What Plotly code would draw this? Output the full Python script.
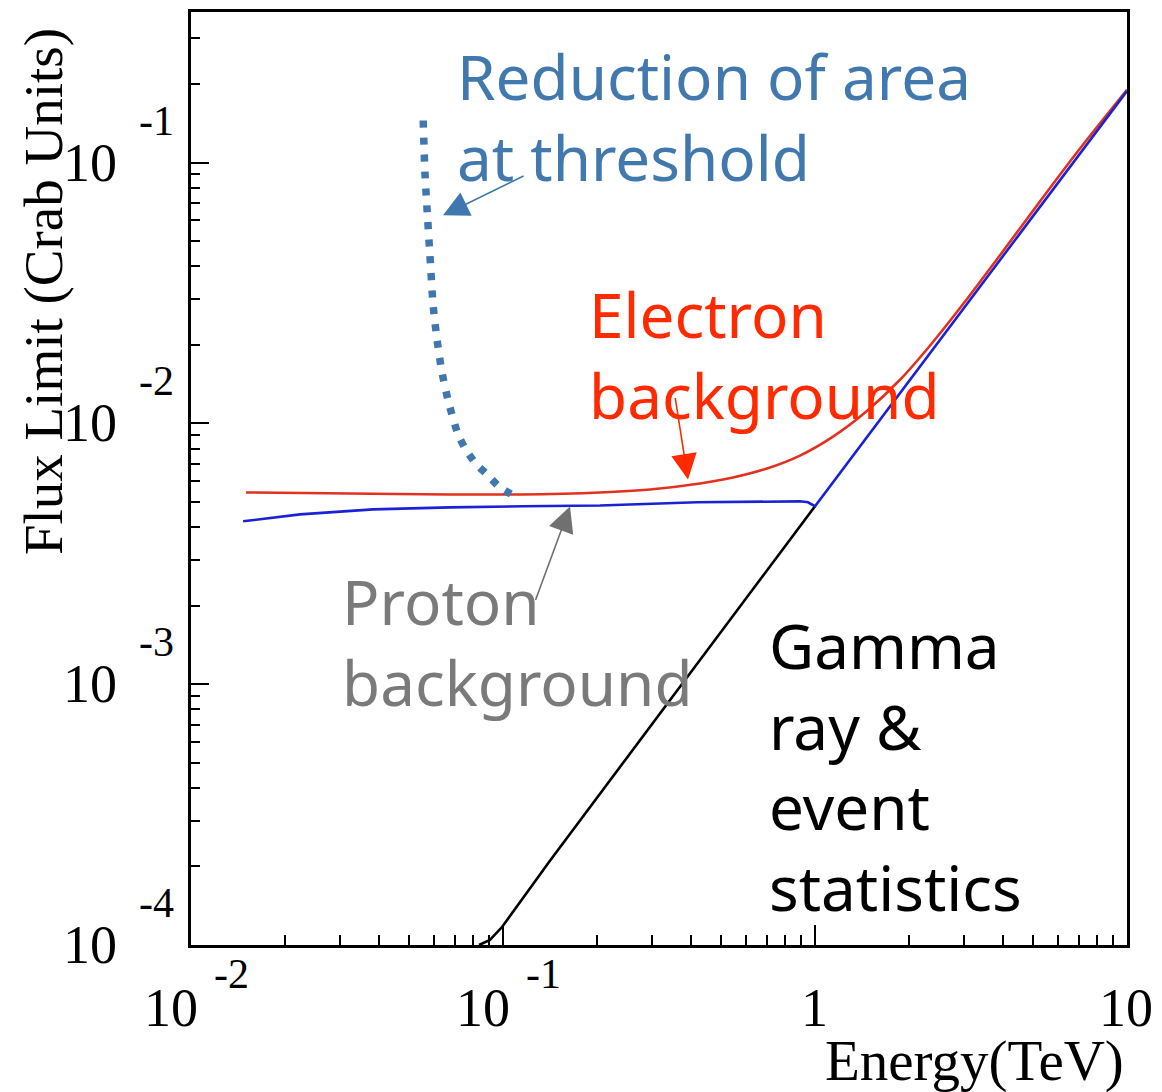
import math
import plotly.graph_objects as go

# ---------------- data ----------------
# Electron background (red)
electron_E = [0.01501, 0.03233, 0.06763, 0.1134, 0.2046, 0.2960, 0.4280, 0.5462, 0.7017, 0.8952,
              1.142, 1.457, 1.873, 2.389, 3.070, 3.917, 5.263, 7.069, 10.0]
electron_F = [0.005433, 0.005385, 0.005338, 0.005338, 0.005433, 0.005578, 0.005880, 0.006200, 0.006712, 0.007523,
              0.008894, 0.01108, 0.01469, 0.02051, 0.02995, 0.04411, 0.07096, 0.1131, 0.190]

# Proton background + total (blue)
proton_E = [0.01469, 0.02236, 0.03831, 0.06763, 0.1159, 0.2046, 0.4186, 0.6665, 0.8952, 0.9497, 1.0, 10.0]
proton_F = [0.00421, 0.004477, 0.004677, 0.004764, 0.00481, 0.00484, 0.00498, 0.005023, 0.005023, 0.00498, 0.00481, 0.188]

# Gamma ray & event statistics (black)
gamma_E = [0.0838, 0.0908, 0.0993, 0.1416, 1.0]
gamma_F = [1.0e-4, 1.045e-4, 1.172e-4, 2.11e-4, 0.00481]

# Reduction of area at threshold (dotted)
thresh_E = [0.0555, 0.0562, 0.0570, 0.0583, 0.0597, 0.0614, 0.0637, 0.0671, 0.0718, 0.0760, 0.0818, 0.0889, 0.0970, 0.1091]
thresh_F = [0.1449, 0.0916, 0.0685, 0.0442, 0.0284, 0.0211, 0.01574, 0.01189, 0.00906, 0.00793, 0.00701, 0.00637, 0.00573, 0.00525]

# tick labels: mantissa + exponent (ROOT style)
x_tickvals = [0.01, 0.1, 1, 10]
x_tick_base = ["10", "10", "1", "10"]
x_tick_exp = ["-2", "-1", "", ""]
y_tickvals = [1e-4, 1e-3, 1e-2, 1e-1]
y_tick_base = ["10", "10", "10", "10"]
y_tick_exp = ["-4", "-3", "-2", "-1"]

# ---------------- layout geometry (page pixels; page body has an 8px margin) ----------------
OFF = 8
W, H = 1162 - OFF, 1092 - OFF
PL, PR, PT, PB = 191, 1127, 9, 945          # plot area on the page
XR = [-2, 1]
YR = [-4, -0.423]
PW, PH = PR - PL, PB - PT


def px_to_logx(px):
    return XR[0] + (px - PL) / PW * (XR[1] - XR[0])


def py_to_logy(py):
    return YR[1] - (py - PT) / PH * (YR[1] - YR[0])


def px_to_paper_x(px):
    return (px - PL) / PW


def py_to_paper_y(py):
    return 1 - (py - PT) / PH


hand_font = "Comic Sans MS, Noto Sans"
serif_font = "Liberation Serif"

fig = go.Figure()
fig.add_trace(go.Scatter(x=electron_E, y=electron_F, mode="lines",
                         line=dict(color="#e3301f", width=2.6, shape="spline", smoothing=0.9)))
fig.add_trace(go.Scatter(x=gamma_E, y=gamma_F, mode="lines",
                         line=dict(color="black", width=2.6)))
fig.add_trace(go.Scatter(x=proton_E, y=proton_F, mode="lines",
                         line=dict(color="#1a22d6", width=2.6)))
fig.add_trace(go.Scatter(x=thresh_E, y=thresh_F, mode="lines",
                         line=dict(color="#3f77ae", width=7.5, dash="7px,10px", shape="spline", smoothing=0.6)))

minor_x = [m * 10 ** d for d in (-2, -1, 0) for m in range(2, 10)]
minor_y = [m * 10 ** d for d in (-4, -3, -2, -1) for m in range(2, 10)]

fig.update_xaxes(type="log", range=XR, showline=True, linecolor="black", linewidth=3, mirror=True,
                 ticks="inside", ticklen=20, tickwidth=1.5, tickcolor="black",
                 tickmode="array", tickvals=x_tickvals, showticklabels=False,
                 minor=dict(ticks="inside", ticklen=10, tickwidth=1.5, tickcolor="black",
                            tickmode="array", tickvals=minor_x, showgrid=False),
                 showgrid=False, zeroline=False)
fig.update_yaxes(type="log", range=YR, showline=True, linecolor="black", linewidth=3, mirror=True,
                 ticks="inside", ticklen=18, tickwidth=1.5, tickcolor="black",
                 tickmode="array", tickvals=y_tickvals, showticklabels=False,
                 minor=dict(ticks="inside", ticklen=9, tickwidth=1.5, tickcolor="black",
                            tickmode="array", tickvals=minor_y, showgrid=False),
                 showgrid=False, zeroline=False)

annotations = []
base_font = dict(family=serif_font, size=54, color="black")
exp_font = dict(family=serif_font, size=42, color="black")

# x tick labels
for v, b, e in zip(x_tickvals, x_tick_base, x_tick_exp):
    if e:
        annotations.append(dict(text=b, xref="x", yref="paper", x=math.log10(v), y=py_to_paper_y(1008),
                                xanchor="right", yanchor="middle", xshift=9, showarrow=False, font=base_font))
        annotations.append(dict(text=e, xref="x", yref="paper", x=math.log10(v), y=py_to_paper_y(974),
                                xanchor="left", yanchor="middle", xshift=21, showarrow=False, font=exp_font))
    else:
        annotations.append(dict(text=b, xref="x", yref="paper", x=math.log10(v), y=py_to_paper_y(1008),
                                xanchor="center", yanchor="middle", xshift=-1, showarrow=False, font=base_font))

# y tick labels
for v, b, e in zip(y_tickvals, y_tick_base, y_tick_exp):
    annotations.append(dict(text=b, xref="paper", yref="y", x=px_to_paper_x(119), y=math.log10(v),
                            xanchor="right", yanchor="middle", showarrow=False, font=base_font))
    annotations.append(dict(text=e, xref="paper", yref="y", x=px_to_paper_x(137), y=math.log10(v),
                            xanchor="left", yanchor="middle", yshift=42, showarrow=False, font=exp_font))

# axis titles
annotations.append(dict(text="Flux Limit (Crab Units)", xref="paper", yref="paper",
                        x=px_to_paper_x(43), y=py_to_paper_y(290), xanchor="center", yanchor="middle",
                        textangle=-90, showarrow=False,
                        font=dict(family=serif_font, size=55, color="black")))
annotations.append(dict(text="Energy(TeV)", xref="paper", yref="paper",
                        x=px_to_paper_x(1126), y=py_to_paper_y(1061), xanchor="right", yanchor="middle",
                        showarrow=False, font=dict(family=serif_font, size=57, color="black")))

# text labels
labels = [
    ("Reduction of area<br>at threshold", 455, 114, "#4178ad"),
    ("Electron<br>background", 587, 353, "#ff2a00"),
    ("Proton<br>background", 340, 641, "#7a7a7a"),
    ("Gamma<br>ray &amp;<br>event<br>statistics", 767, 765, "black"),
]
for txt, lx, cy, col in labels:
    annotations.append(dict(text=txt, xref="paper", yref="paper", x=px_to_paper_x(lx), y=py_to_paper_y(cy),
                            xanchor="left", yanchor="middle", align="left", showarrow=False,
                            font=dict(family=hand_font, size=62, color=col)))

# arrows (head position, tail offset in px)
arrows = [
    (443, 213, 82, -40, "#3f77ae"),
    (688, 478, -13, -83, "#ff2a00"),
    (570, 505, -35, 95, "#707070"),
]
for hx, hy, dx, dy, col in arrows:
    annotations.append(dict(text="", x=px_to_logx(hx), y=py_to_logy(hy), xref="x", yref="y",
                            ax=dx, ay=dy, showarrow=True, arrowhead=2, arrowsize=3.2,
                            arrowwidth=1.6, arrowcolor=col, standoff=0, startstandoff=0))

fig.update_layout(width=W, height=H,
                  margin=dict(l=PL - OFF, r=W + OFF - PR, t=PT - OFF, b=H + OFF - PB, pad=0),
                  paper_bgcolor="white", plot_bgcolor="white", showlegend=False,
                  annotations=annotations)

fig.write_html("out.html")
